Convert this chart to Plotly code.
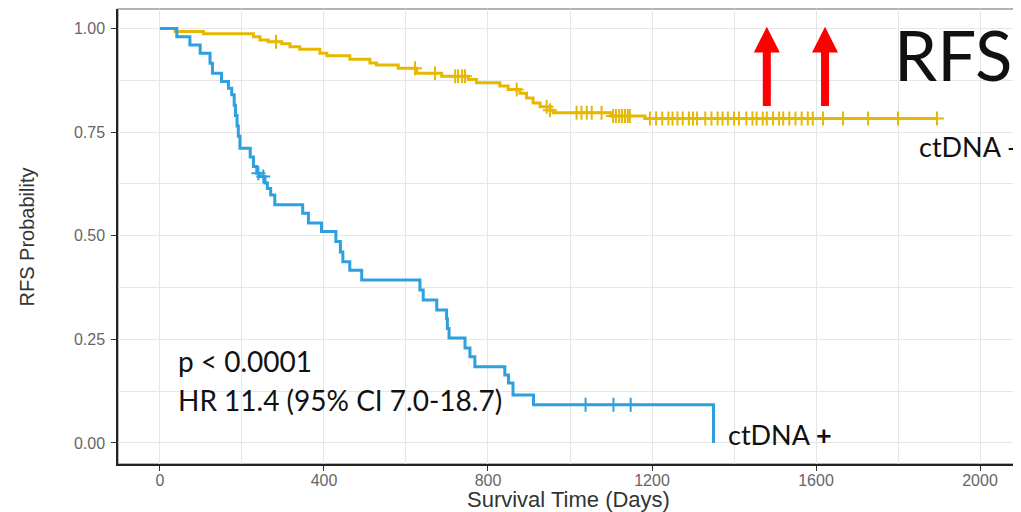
import numpy as np
import plotly.graph_objects as go

# ---------------- data ----------------
pos_time = [0, 41, 73, 98, 122, 128, 150, 167, 175, 181, 184, 188, 191, 195, 220, 228, 236, 244,
            256, 262, 270, 280, 348, 362, 394, 429, 440, 446, 463, 492, 634, 642, 675, 699, 701,
            705, 744, 756, 768, 841, 850, 861, 911, 1350]
pos_surv = [1.000, 0.980, 0.960, 0.940, 0.916, 0.892, 0.872, 0.856, 0.840, 0.815, 0.790, 0.765,
            0.740, 0.711, 0.690, 0.667, 0.651, 0.643, 0.627, 0.614, 0.598, 0.575, 0.554, 0.531,
            0.510, 0.486, 0.461, 0.437, 0.417, 0.393, 0.369, 0.345, 0.321, 0.300, 0.276, 0.253,
            0.229, 0.208, 0.184, 0.164, 0.145, 0.116, 0.092, 0.000]
pos_censor = [240, 252, 1038, 1106, 1148]

neg_time = [0, 37, 106, 228, 244, 264, 297, 317, 341, 390, 407, 463, 512, 528, 581, 626, 687,
            752, 772, 829, 849, 878, 894, 910, 927, 951, 959, 1100, 1183, 1898]
neg_surv = [1.000, 0.993, 0.987, 0.980, 0.972, 0.968, 0.963, 0.956, 0.950, 0.940, 0.934, 0.926,
            0.917, 0.912, 0.904, 0.892, 0.885, 0.877, 0.869, 0.861, 0.853, 0.844, 0.832, 0.820,
            0.811, 0.803, 0.797, 0.789, 0.783, 0.783]
neg_censor = [283, 622, 671, 720, 727, 737, 744, 870, 943, 951, 1016, 1028, 1041, 1053, 1077,
              1105, 1112, 1120, 1127, 1134, 1141, 1146, 1195, 1210, 1225, 1240, 1250, 1262, 1275,
              1290, 1300, 1310, 1330, 1345, 1360, 1372, 1385, 1400, 1412, 1430, 1445, 1455, 1470,
              1480, 1495, 1510, 1520, 1535, 1550, 1565, 1580, 1592, 1617, 1666, 1727, 1800, 1895]

x_ticks = [0, 400, 800, 1200, 1600, 2000]
y_ticks = [0.00, 0.25, 0.50, 0.75, 1.00]

COL_NEG = "#E7B800"
COL_POS = "#2E9FDF"


def step_at(times, survs, ts):
    times = np.asarray(times)
    survs = np.asarray(survs)
    idx = np.searchsorted(times, ts, side="right") - 1
    return survs[idx]


fig = go.Figure()

for t, s, c, col in [(neg_time, neg_surv, neg_censor, COL_NEG),
                     (pos_time, pos_surv, pos_censor, COL_POS)]:
    fig.add_trace(go.Scatter(x=t, y=s, mode="lines", line=dict(color=col, width=3, shape="hv"),
                             showlegend=False, hoverinfo="skip"))
    fig.add_trace(go.Scatter(x=c, y=step_at(t, s, c), mode="markers",
                             marker=dict(symbol="cross-thin", size=10,
                                         line=dict(color=col, width=2)),
                             showlegend=False, hoverinfo="skip"))

TXT = "Lato"
annots = [
    dict(x=39, y=0.198, text="p < 0.0001", size=28),
    dict(x=39, y=0.104, text="HR 11.4 (95% CI 7.0-18.7)", size=28),
    dict(x=1380, y=0.021, text="ctDNA <b>+</b>", size=27),
    dict(x=1847, y=0.716, text="ctDNA -", size=27),
    dict(x=1785, y=0.938, text="RFS", size=69),
]
for a in annots:
    fig.add_annotation(x=a["x"], y=a["y"], xref="x", yref="y", text=a["text"], showarrow=False,
                       xanchor="left", yanchor="middle",
                       font=dict(family=TXT, size=a["size"], color="#111111"))

AX = "Liberation Sans"
fig.add_annotation(x=0.5005, y=-0.079, xref="paper", yref="paper", text="Survival Time (Days)",
                   showarrow=False, xanchor="center", yanchor="middle",
                   font=dict(family=AX, size=22, color="#333333"))
fig.add_annotation(x=-0.101, y=0.5, xref="paper", yref="paper", text="RFS Probability",
                   showarrow=False, xanchor="center", yanchor="middle", textangle=-90,
                   font=dict(family=AX, size=20, color="#333333"))

# red arrows
for xc in [1480, 1622]:
    hw_s, hw_h = 9.8, 31.7
    y0, yb, yt = 0.813, 0.942, 1.004
    path = (f"M {xc-hw_s},{y0} L {xc-hw_s},{yb} L {xc-hw_h},{yb} L {xc},{yt} "
            f"L {xc+hw_h},{yb} L {xc+hw_s},{yb} L {xc+hw_s},{y0} Z")
    fig.add_shape(type="path", path=path, xref="x", yref="y", fillcolor="#FF0000",
                  line=dict(width=0), layer="above")

# panel border (gray) top/right
fig.add_shape(type="rect", xref="paper", yref="paper", x0=0, x1=1, y0=0, y1=1,
              line=dict(color="#9A9A9A", width=1.5), layer="below")

GRID = "#E6E6E6"
# the page body adds an 8px offset, so the figure is 8px smaller and margins compensate
fig.update_layout(
    width=1013, height=504,
    margin=dict(l=110, r=2, t=1, b=48),
    paper_bgcolor="white", plot_bgcolor="white",
    xaxis=dict(range=[-102.4, 2095.1], tickvals=x_ticks, ticktext=[str(v) for v in x_ticks],
               automargin=False,
               showgrid=True, gridcolor=GRID, gridwidth=1.2,
               minor=dict(tickvals=[200, 600, 1000, 1400, 1800], showgrid=True,
                          gridcolor=GRID, gridwidth=1),
               zeroline=False, showline=True, linecolor="#222222", linewidth=1.5,
               ticks="outside", ticklen=5, tickcolor="#333333", tickwidth=1,
               ticklabelstandoff=-4,
               tickfont=dict(family=AX, size=16, color="#666666")),
    yaxis=dict(range=[-0.0507, 1.047], tickvals=y_ticks, ticktext=[f"{v:.2f}" for v in y_ticks],
               automargin=False,
               showgrid=True, gridcolor=GRID, gridwidth=1.2,
               minor=dict(tickvals=[0.125, 0.375, 0.625, 0.875], showgrid=True,
                          gridcolor=GRID, gridwidth=1),
               zeroline=False, showline=True, linecolor="#222222", linewidth=1.5,
               ticks="outside", ticklen=5, tickcolor="#333333", tickwidth=1,
               ticklabelstandoff=3,
               tickfont=dict(family=AX, size=16, color="#666666")),
)

fig.write_html("out.html")
